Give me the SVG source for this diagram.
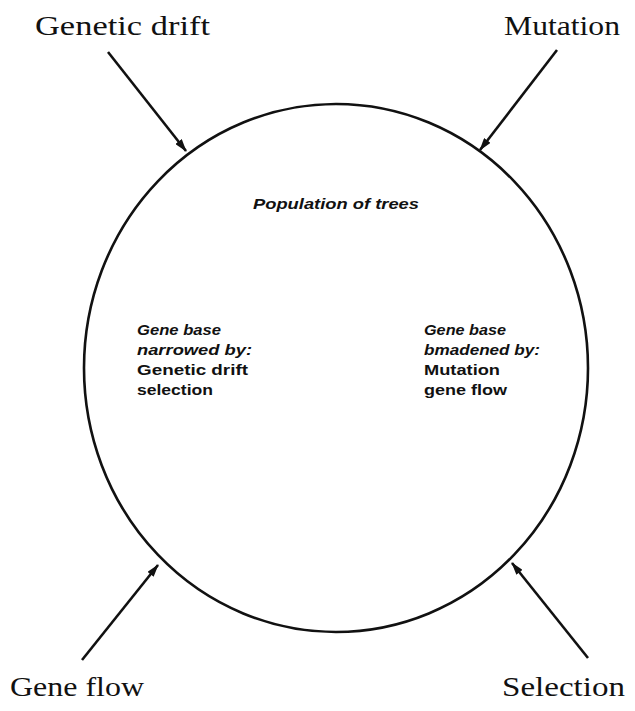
<svg xmlns="http://www.w3.org/2000/svg" width="635" height="711" viewBox="0 0 635 711">
<style>
.lbl{font-family:"Liberation Serif","DejaVu Serif",serif;font-size:28px;fill:#111}
.it{font-family:"Liberation Sans","DejaVu Sans",sans-serif;font-size:15px;font-weight:bold;font-style:italic;fill:#111}
.rg{font-family:"Liberation Sans","DejaVu Sans",sans-serif;font-size:15px;font-weight:bold;fill:#111}
.ln{stroke:#111;stroke-width:2.6;fill:none}
</style>
<defs>
<marker id="ah" viewBox="0 0 13 8" refX="12" refY="4" markerWidth="13" markerHeight="8" markerUnits="userSpaceOnUse" orient="auto">
<path d="M0,0 L13,4 L0,8 Z" fill="#111"/>
</marker>
</defs>
<rect width="635" height="711" fill="#fff"/>
<g id="population">
<ellipse class="ln" cx="336" cy="368" rx="252" ry="264"/>
<text class="it" x="253" y="209" textLength="166" lengthAdjust="spacingAndGlyphs">Population of trees</text>
</g>
<g id="narrowed">
<text class="it" x="137" y="335" textLength="84" lengthAdjust="spacingAndGlyphs">Gene base</text>
<text class="it" x="137" y="355" textLength="115" lengthAdjust="spacingAndGlyphs">narrowed by:</text>
<text class="rg" x="137" y="375" textLength="111" lengthAdjust="spacingAndGlyphs">Genetic drift</text>
<text class="rg" x="137" y="395" textLength="76" lengthAdjust="spacingAndGlyphs">selection</text>
</g>
<g id="broadened">
<text class="it" x="424" y="335" textLength="82" lengthAdjust="spacingAndGlyphs">Gene base</text>
<text class="it" x="424" y="355" textLength="116" lengthAdjust="spacingAndGlyphs">bmadened by:</text>
<text class="rg" x="424" y="375" textLength="76" lengthAdjust="spacingAndGlyphs">Mutation</text>
<text class="rg" x="424" y="395" textLength="83" lengthAdjust="spacingAndGlyphs">gene flow</text>
</g>
<g id="genetic-drift"><text class="lbl" x="35" y="35" textLength="175" lengthAdjust="spacingAndGlyphs">Genetic drift</text></g>
<g id="mutation"><text class="lbl" x="504" y="35" textLength="116" lengthAdjust="spacingAndGlyphs">Mutation</text></g>
<g id="gene-flow"><text class="lbl" x="10" y="696" textLength="134" lengthAdjust="spacingAndGlyphs">Gene flow</text></g>
<g id="selection"><text class="lbl" x="502" y="696" textLength="123" lengthAdjust="spacingAndGlyphs">Selection</text></g>
<g id="connectors">
<line class="ln" x1="108" y1="52" x2="186" y2="151" marker-end="url(#ah)"/>
<line class="ln" x1="557" y1="50" x2="480" y2="150" marker-end="url(#ah)"/>
<line class="ln" x1="82" y1="660" x2="158" y2="565" marker-end="url(#ah)"/>
<line class="ln" x1="588" y1="658" x2="512" y2="563" marker-end="url(#ah)"/>
</g>
</svg>
